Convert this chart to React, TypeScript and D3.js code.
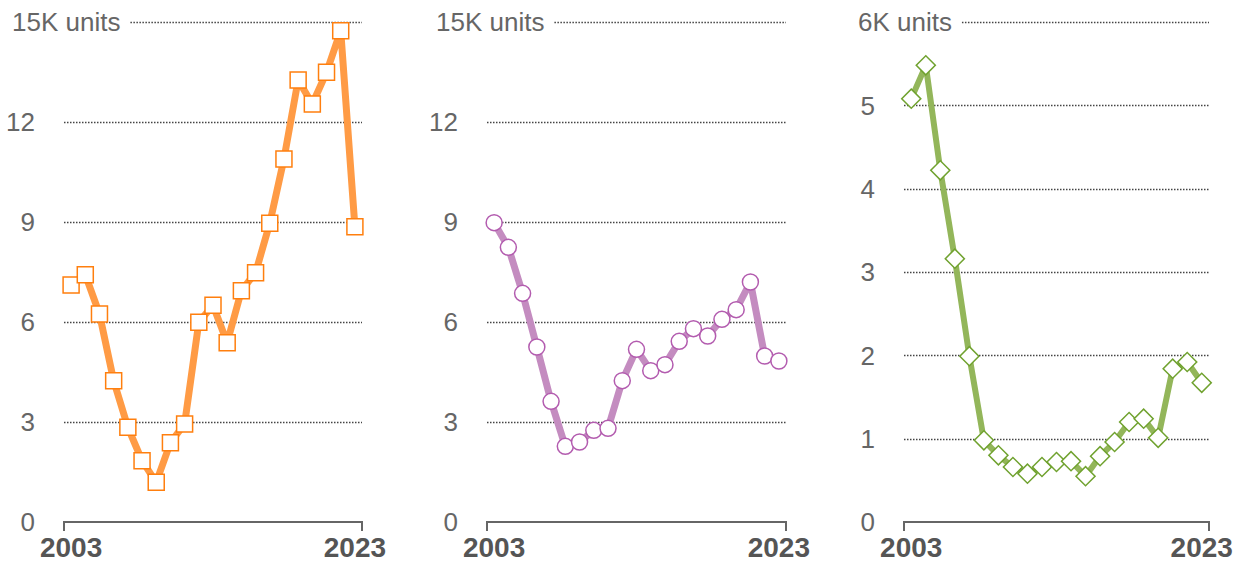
import React, { useEffect, useRef } from 'react'
import * as d3 from 'd3'

// years on the x axis, one point per year
const years = d3.range(2003, 2024)
const xTickYears = [2003, 2023]

// values in thousands of units
const orangeValues = [7.11, 7.42, 6.24, 4.24, 2.84, 1.84, 1.19, 2.38, 2.94, 5.99, 6.5, 5.38, 6.94, 7.48, 8.96, 10.89, 13.26, 12.54, 13.49, 14.74, 8.86]
const purpleValues = [8.98, 8.24, 6.86, 5.25, 3.62, 2.27, 2.4, 2.75, 2.81, 4.24, 5.18, 4.54, 4.72, 5.42, 5.8, 5.58, 6.08, 6.37, 7.2, 4.98, 4.83]
const greenValues = [5.08, 5.48, 4.22, 3.16, 1.99, 0.98, 0.8, 0.66, 0.58, 0.66, 0.72, 0.73, 0.55, 0.79, 0.96, 1.2, 1.24, 1.01, 1.84, 1.92, 1.67]

const ticks15 = [0, 3, 6, 9, 12, 15]
const ticks6 = [0, 1, 2, 3, 4, 5, 6]
const topLabel15 = '15K units'
const topLabel6 = '6K units'

type Panel = {
  values: number[]
  ticks: number[]
  topLabel: string
  left: number
  right: number
  topLabelX: number
  line: string
  stroke: string
  lineWidth: number
  marker: 'square' | 'circle' | 'diamond'
}

const panels: Panel[] = [
  { values: orangeValues, ticks: ticks15, topLabel: topLabel15, left: 64, right: 362, topLabelX: 12, line: '#ff9b45', stroke: '#ff7f0e', lineWidth: 7, marker: 'square' },
  { values: purpleValues, ticks: ticks15, topLabel: topLabel15, left: 487, right: 786, topLabelX: 436, line: '#c48cc0', stroke: '#b35caf', lineWidth: 7, marker: 'circle' },
  { values: greenValues, ticks: ticks6, topLabel: topLabel6, left: 904, right: 1209, topLabelX: 858, line: '#93b65a', stroke: '#70a22f', lineWidth: 6, marker: 'diamond' }
]

const W = 1239
const H = 562
const yTop = 22
const yBottom = 522

export default function App() {
  const ref = useRef<SVGSVGElement>(null)

  useEffect(() => {
    const svg = d3.select(ref.current)
    svg.selectAll('*').remove()

    panels.forEach((p) => {
      const g = svg.append('g')
      const x = d3.scalePoint<number>().domain(years).range([p.left, p.right]).padding(0.5)
      const maxTick = p.ticks[p.ticks.length - 1]
      const y = d3.scaleLinear().domain([0, maxTick]).range([yBottom, yTop])

      /* top label, gridline starts after it */
      const top = g.append('text')
        .attr('x', p.topLabelX)
        .attr('y', y(maxTick))
        .attr('dy', '0.36em')
        .attr('fill', '#666')
        .style('font-family', 'Liberation Sans, Arial, sans-serif')
        .style('font-size', '26px')
        .text(p.topLabel)
      const topEnd = p.topLabelX + (top.node() as SVGTextElement).getComputedTextLength() + 10

      /* gridlines */
      g.selectAll('line.grid')
        .data(p.ticks.filter((t) => t > 0))
        .enter()
        .append('line')
        .attr('x1', (t) => (t === maxTick ? topEnd : p.left))
        .attr('x2', p.right)
        .attr('y1', (t) => Math.round(y(t)) + 0.5)
        .attr('y2', (t) => Math.round(y(t)) + 0.5)
        .attr('stroke', '#444')
        .attr('stroke-width', 1.4)
        .attr('stroke-dasharray', '1.5,1.5')

      /* y tick labels */
      g.selectAll('text.ytick')
        .data(p.ticks.filter((t) => t < maxTick))
        .enter()
        .append('text')
        .attr('x', p.left - 29)
        .attr('y', (t) => y(t))
        .attr('dy', '0.36em')
        .attr('text-anchor', 'end')
        .attr('fill', '#666')
        .style('font-family', 'Liberation Sans, Arial, sans-serif')
        .style('font-size', '26px')
        .text((t) => String(t))

      /* x axis: baseline with end ticks */
      g.append('path')
        .attr('d', `M${p.left},${yBottom + 9}V${yBottom}H${p.right}V${yBottom + 9}`)
        .attr('fill', 'none')
        .attr('stroke', '#666')
        .attr('stroke-width', 2)

      g.selectAll('text.xtick')
        .data(xTickYears)
        .enter()
        .append('text')
        .attr('x', (d) => x(d) as number)
        .attr('y', 557)
        .attr('text-anchor', 'middle')
        .attr('fill', '#555')
        .style('font-family', 'Liberation Sans, Arial, sans-serif')
        .style('font-size', '28px')
        .style('font-weight', 'bold')
        .text((d) => String(d))

      /* line */
      const pts = years.map((yr, i) => [x(yr) as number, y(p.values[i])] as [number, number])
      g.append('path')
        .attr('d', d3.line()(pts))
        .attr('fill', 'none')
        .attr('stroke', p.line)
        .attr('stroke-width', p.lineWidth)
        .attr('stroke-linejoin', 'round')

      /* markers */
      const sym = p.marker === 'circle' ? d3.symbolCircle : d3.symbolSquare
      const size = p.marker === 'square' ? 256 : p.marker === 'circle' ? Math.PI * 64 : 182
      g.selectAll('path.mark')
        .data(pts)
        .enter()
        .append('path')
        .attr('d', d3.symbol().type(sym).size(size)())
        .attr('transform', (d) => `translate(${d[0]},${d[1]})` + (p.marker === 'diamond' ? ' rotate(45)' : ''))
        .attr('fill', '#fff')
        .attr('stroke', p.stroke)
        .attr('stroke-width', 1.5)
    })
  }, [])

  return (
    <svg ref={ref} width={W} height={H} style={{ position: 'absolute', left: 0, top: 0, background: '#fff' }} />
  )
}
